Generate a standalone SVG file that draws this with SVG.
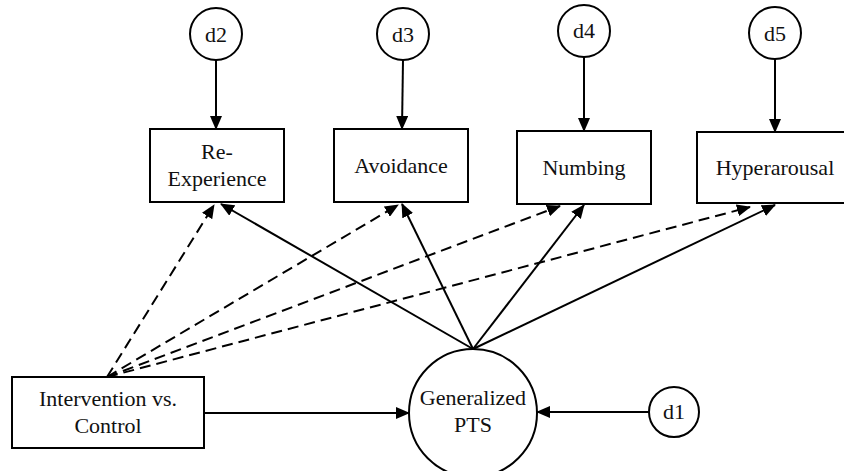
<svg xmlns="http://www.w3.org/2000/svg" width="844" height="471" viewBox="0 0 844 471">
  <style>
    .box { fill: #fff; stroke: #000; stroke-width: 2; }
    .edge { stroke: #000; stroke-width: 2; fill: none; marker-end: url(#arrow); }
    .dash { stroke-dasharray: 11 6; }
  </style>
  <defs>
    <marker id="arrow" markerUnits="userSpaceOnUse" markerWidth="14" markerHeight="12" refX="13" refY="6" orient="auto">
      <path d="M0,0 L14,6 L0,12 Z" fill="#000"/>
    </marker>
  </defs>

  <rect width="844" height="471" fill="#fff"/>

  <g id="connectors">
    <!-- disturbances to indicators -->
    <line class="edge" x1="216" y1="60" x2="216" y2="129"/>
    <line class="edge" x1="403" y1="60" x2="402" y2="129"/>
    <line class="edge" x1="584" y1="57" x2="584" y2="131"/>
    <line class="edge" x1="775" y1="59" x2="775" y2="132"/>
    <!-- latent factor to indicators -->
    <line class="edge" x1="473" y1="349" x2="221" y2="204"/>
    <line class="edge" x1="473" y1="349" x2="402" y2="204"/>
    <line class="edge" x1="473" y1="349" x2="584" y2="205"/>
    <line class="edge" x1="473" y1="349" x2="775" y2="205"/>
    <!-- direct intervention effects -->
    <line class="edge dash" x1="107" y1="377" x2="214" y2="205"/>
    <line class="edge dash" x1="107" y1="377" x2="398" y2="205"/>
    <line class="edge dash" x1="107" y1="377" x2="560" y2="206"/>
    <line class="edge dash" x1="107" y1="377" x2="750" y2="207"/>
    <!-- intervention and d1 to latent factor -->
    <line class="edge" x1="204" y1="413" x2="409" y2="413"/>
    <line class="edge" x1="649" y1="412" x2="537" y2="412"/>
  </g>

  <!-- all labels share one serif style set on this wrapper -->
  <g font-family="'Liberation Serif', 'Times New Roman', serif" font-size="22" fill="#111" text-anchor="middle">
    <g id="d2"><circle class="box" cx="216" cy="34" r="26"/><text x="216" y="42">d2</text></g>
    <g id="d3"><circle class="box" cx="403" cy="34" r="26"/><text x="403" y="42">d3</text></g>
    <g id="d4"><circle class="box" cx="584" cy="31" r="26"/><text x="584" y="38">d4</text></g>
    <g id="d5"><circle class="box" cx="775" cy="33" r="26"/><text x="775" y="41">d5</text></g>

    <g id="reexperience">
      <rect class="box" x="150" y="129" width="134" height="73"/>
      <text x="217" y="159">Re-</text>
      <text x="217" y="186">Experience</text>
    </g>
    <g id="avoidance">
      <rect class="box" x="334" y="129" width="134" height="73"/>
      <text x="401" y="173">Avoidance</text>
    </g>
    <g id="numbing">
      <rect class="box" x="517" y="131" width="134" height="73"/>
      <text x="584" y="175">Numbing</text>
    </g>
    <g id="hyperarousal">
      <rect class="box" x="697" y="132" width="156" height="71"/>
      <text x="775" y="175">Hyperarousal</text>
    </g>

    <g id="intervention">
      <rect class="box" x="12" y="377" width="192" height="71"/>
      <text x="108" y="406">Intervention vs.</text>
      <text x="108" y="433">Control</text>
    </g>
    <g id="pts">
      <circle class="box" cx="473" cy="413" r="64"/>
      <text x="473" y="405">Generalized</text>
      <text x="473" y="432">PTS</text>
    </g>
    <g id="d1"><circle class="box" cx="674" cy="412" r="25"/><text x="674" y="419">d1</text></g>
  </g>
</svg>
